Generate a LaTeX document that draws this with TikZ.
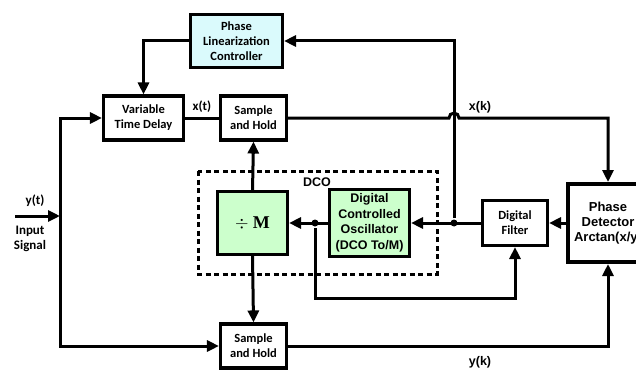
\documentclass[tikz,border=0pt]{standalone}
\usepackage{fontspec}
\newfontfamily\calfont{Carlito}
\newfontfamily\arialfont{Liberation Sans}
\newfontfamily\timesfont{Liberation Serif}
\usetikzlibrary{arrows.meta}
\definecolor{ctrlcyan}{RGB}{218,250,252}
\definecolor{dcogreen}{RGB}{204,255,204}
\tikzset{
  block/.style = {draw, line width=3.1pt, align=center, inner sep=0pt, font=\calfont\bfseries\fontsize{12.5}{15}\selectfont},
  ctrl_block/.style = {block, fill=ctrlcyan},
  dco_block/.style = {block, fill=dcogreen, font=\arialfont\bfseries\fontsize{12.5}{15.5}\selectfont},
  detector/.style = {block, line width=4pt, font=\arialfont\bfseries\fontsize{13}{15}\selectfont},
  cal_label/.style = {font=\calfont\bfseries\fontsize{13}{15.5}\selectfont, align=center},
  arial_label/.style = {font=\arialfont\bfseries\fontsize{12.5}{14}\selectfont},
  junction/.style = {circle, fill, inner sep=0pt, minimum size=7pt}
}

\begin{document}
\begin{tikzpicture}[x=1pt, y=-1pt, line width=3pt,
    arr/.style={-{Triangle[length=12pt,width=11pt]}}]
  \useasboundingbox (0,0) rectangle (636,369);

  % DCO group
  \draw[dash pattern=on 5pt off 3.5pt, line width=3pt] (198,171) rectangle (437,274);
  \node[arial_label] (dcolabel) at (317,182) {DCO};

  % blocks
  \node[ctrl_block, minimum width=92pt, minimum height=53pt] (ctrl) at (236.5,41) {Phase\\Linearization\\Controller};
  \node[block, minimum width=80pt, minimum height=44pt] (vtd) at (143.5,118) {Variable\\Time Delay};
  \node[block, minimum width=66pt, minimum height=44pt] (shtop) at (253.5,118) {Sample\\and Hold};
  \node[block, fill=dcogreen, minimum width=70pt, minimum height=63pt, font=\timesfont\fontsize{18}{18}\selectfont] (divm) at (252.5,223) {$\div$ \textbf{M}};
  \node[dco_block, minimum width=80pt, minimum height=67pt] (dco) at (369.5,223) {Digital\\Controlled\\Oscillator\\(DCO To/M)};
  \node[block, minimum width=65pt, minimum height=45pt] (filt) at (515,223) {Digital\\Filter};
  \node[detector, minimum width=80pt, minimum height=78pt] (pd) at (608,223) {Phase\\Detector\\Arctan(x/y)};
  \node[block, minimum width=66pt, minimum height=44pt] (shbot) at (253.5,346) {Sample\\and Hold};

  % junctions and free ends
  \node[junction] (j1) at (454,223) {};
  \node[junction] (j2) at (315,223) {};
  \coordinate (in) at (15,216);
  \coordinate (split) at (60,216);
  \coordinate (hop) at (j1 |- shtop.east);

  % input path
  \draw[arr] (in) -- (split);
  \draw[arr] (split) |- (vtd.west);
  \draw[arr] (split) |- (shbot.west);

  % top path
  \draw (vtd.east) -- (shtop.west);
  \draw[arr] (shtop.east) -- ([xshift=-5pt]hop) arc[start angle=180, end angle=0, radius=5pt] -| (pd.north);
  \draw[arr] (shbot.east) -| (pd.south);

  % loop
  \draw[arr] (pd.west) -- (filt.east);
  \draw[arr] (filt.west) -- (dco.east);
  \draw[arr] (dco.west) -- (divm.east);
  \draw[arr] (j1) |- (ctrl.east);
  \draw[arr] (ctrl.west) -| (vtd.north);
  \draw[arr] (j2) -- ++(0,75) -| (filt.south);
  \draw[arr] (divm.north) -- (shtop.south);
  \draw[arr] (divm.south) -- (shbot.north);

  % signal names
  \node[cal_label] (xt) at (202,107) {x(t)};
  \node[arial_label] (xk) at (480,107) {x(k)};
  \node[cal_label] (yt) at (35,201) {y(t)};
  \node[cal_label] (insig) at (30,239) {Input\\Signal};
  \node[arial_label] (yk) at (480,362) {y(k)};
\end{tikzpicture}
\end{document}
